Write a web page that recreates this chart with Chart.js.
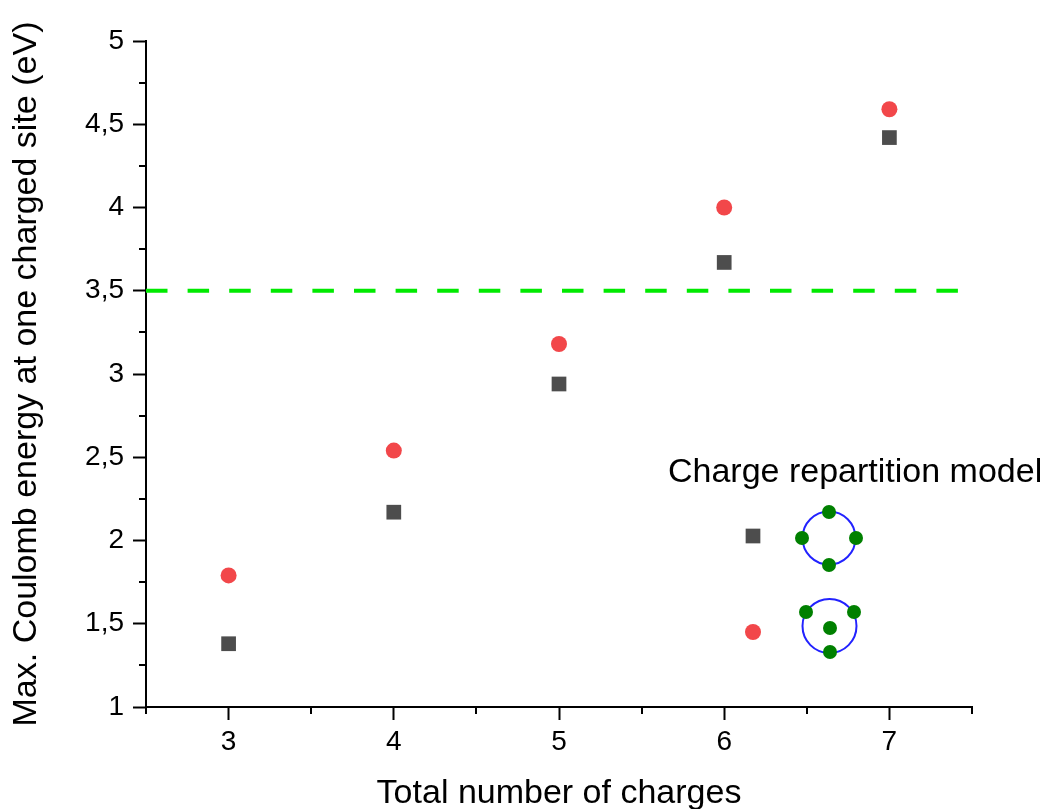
<!DOCTYPE html>
<html>
<head>
<meta charset="utf-8">
<script src="https://cdn.jsdelivr.net/npm/chart.js@4/dist/chart.umd.min.js"></script>
<style>
  html, body { margin: 0; padding: 0; background: #fff; }
  canvas { display: block; }
</style>
</head>
<body>
<canvas id="myChart" width="1050" height="809"></canvas>
<script>
// data
var charges = [3, 4, 5, 6, 7];
var squareEnergy = [1.38, 2.17, 2.94, 3.67, 4.42];
var circleEnergy = [1.79, 2.54, 3.18, 4.00, 4.59];
var limitX = [2.5, 7.5];
var limitY = 3.5;

var xTicks = [3, 4, 5, 6, 7];
var xMinor = [2.5, 3.5, 4.5, 5.5, 6.5, 7.5];
var yTicks = [1, 1.5, 2, 2.5, 3, 3.5, 4, 4.5, 5];
var yMinor = [1.25, 1.75, 2.25, 2.75, 3.25, 3.75, 4.25, 4.75];

var xTitle = 'Total number of charges';
var yTitle = 'Max. Coulomb energy at one charged site (eV)';
var legendTitle = 'Charge repartition model';

var FONT = '"Liberation Sans", Arial, sans-serif';
var squareColor = '#4d4d4d';
var circleColor = '#f2474a';

function pts(xs, ys) { return xs.map((x, i) => ({x: x, y: ys[i]})); }
function comma(v) { return String(v).replace('.', ','); }

// small minor ticks, drawn through the scales
var minorTicks = {
    id: 'minorTicks',
    afterDraw: function(chart) {
        var ctx = chart.ctx, xs = chart.scales.x, ys = chart.scales.y, a = chart.chartArea;
        ctx.save();
        ctx.strokeStyle = '#000';
        ctx.lineWidth = 2;
        ctx.beginPath();
        xMinor.forEach(function(v) {
            var px = Math.round(xs.getPixelForValue(v));
            ctx.moveTo(px, a.bottom);
            ctx.lineTo(px, a.bottom + 7);
        });
        yMinor.forEach(function(v) {
            var py = Math.round(ys.getPixelForValue(v));
            ctx.moveTo(a.left, py);
            ctx.lineTo(a.left - 7, py);
        });
        ctx.stroke();
        ctx.restore();
    }
};

// the "charge repartition model" key with its two sketches
var modelLegend = {
    id: 'modelLegend',
    afterDraw: function(chart) {
        var ctx = chart.ctx;
        ctx.save();
        ctx.font = '34px ' + FONT;
        ctx.fillStyle = '#000';
        ctx.textBaseline = 'alphabetic';
        ctx.textAlign = 'left';
        ctx.fillText(legendTitle, 668, 482);

        ctx.fillStyle = squareColor;
        Chart.helpers.drawPoint(ctx, {pointStyle: 'rect', radius: 10.4, borderWidth: 0, rotation: 0}, 753, 536);
        ctx.fillStyle = circleColor;
        Chart.helpers.drawPoint(ctx, {pointStyle: 'circle', radius: 8, borderWidth: 0, rotation: 0}, 753, 632);

        function ring(cx, cy, r) {
            ctx.beginPath();
            ctx.arc(cx, cy, r, 0, Math.PI * 2);
            ctx.strokeStyle = '#2222ff';
            ctx.lineWidth = 2;
            ctx.stroke();
        }
        function dot(cx, cy) {
            ctx.beginPath();
            ctx.arc(cx, cy, 7, 0, Math.PI * 2);
            ctx.fillStyle = '#008000';
            ctx.fill();
        }
        ring(829, 538, 26.5);
        dot(829, 512); dot(829, 565); dot(802, 538); dot(856, 538);
        ring(829.5, 626, 27);
        dot(806, 612); dot(854, 612); dot(830, 628); dot(830, 652);
        ctx.restore();
    }
};

var ctx = document.getElementById('myChart').getContext('2d');
var myChart = new Chart(ctx, {
    type: 'scatter',
    data: {
        datasets: [
            {
                label: 'limit',
                type: 'line',
                data: limitX.map(x => ({x: x, y: limitY})),
                borderColor: '#00ea00',
                borderWidth: 4,
                borderDash: [21.5, 20.1],
                pointRadius: 0,
                fill: false
            },
            {
                label: 'square',
                data: pts(charges, squareEnergy),
                pointStyle: 'rect',
                pointRadius: 10.4,
                pointBorderWidth: 0,
                backgroundColor: squareColor,
                borderColor: squareColor
            },
            {
                label: 'circle',
                data: pts(charges, circleEnergy),
                pointStyle: 'circle',
                pointRadius: 8,
                pointBorderWidth: 0,
                backgroundColor: circleColor,
                borderColor: circleColor
            }
        ]
    },
    options: {
        responsive: false,
        animation: false,
        layout: {padding: {top: 41, right: 78, left: 0, bottom: 0}},
        plugins: {
            legend: {display: false},
            tooltip: {enabled: false}
        },
        scales: {
            x: {
                type: 'linear',
                min: 2.5,
                max: 7.5,
                afterBuildTicks: function(s) { s.ticks = xTicks.map(v => ({value: v})); },
                afterFit: function(s) { s.height = 102; },
                border: {display: true, color: '#000', width: 2},
                grid: {drawOnChartArea: false, drawTicks: true, tickLength: 13, tickWidth: 2, tickColor: '#000'},
                ticks: {color: '#000', font: {family: FONT, size: 28}, padding: 5, callback: comma},
                title: {display: true, text: xTitle, color: '#000', font: {family: FONT, size: 34, lineHeight: 0.9}, padding: {top: 0, bottom: 0}}
            },
            y: {
                type: 'linear',
                min: 1,
                max: 5,
                afterBuildTicks: function(s) { s.ticks = yTicks.map(v => ({value: v})); },
                afterFit: function(s) { s.width = 146; },
                border: {display: true, color: '#000', width: 2},
                grid: {drawOnChartArea: false, drawTicks: true, tickLength: 13, tickWidth: 2, tickColor: '#000'},
                ticks: {color: '#000', font: {family: FONT, size: 28}, padding: 9, callback: comma},
                title: {display: true, text: yTitle, color: '#000', font: {family: FONT, size: 34, lineHeight: 1}, padding: {top: 10, bottom: 0}}
            }
        }
    },
    plugins: [minorTicks, modelLegend]
});
</script>
</body>
</html>
